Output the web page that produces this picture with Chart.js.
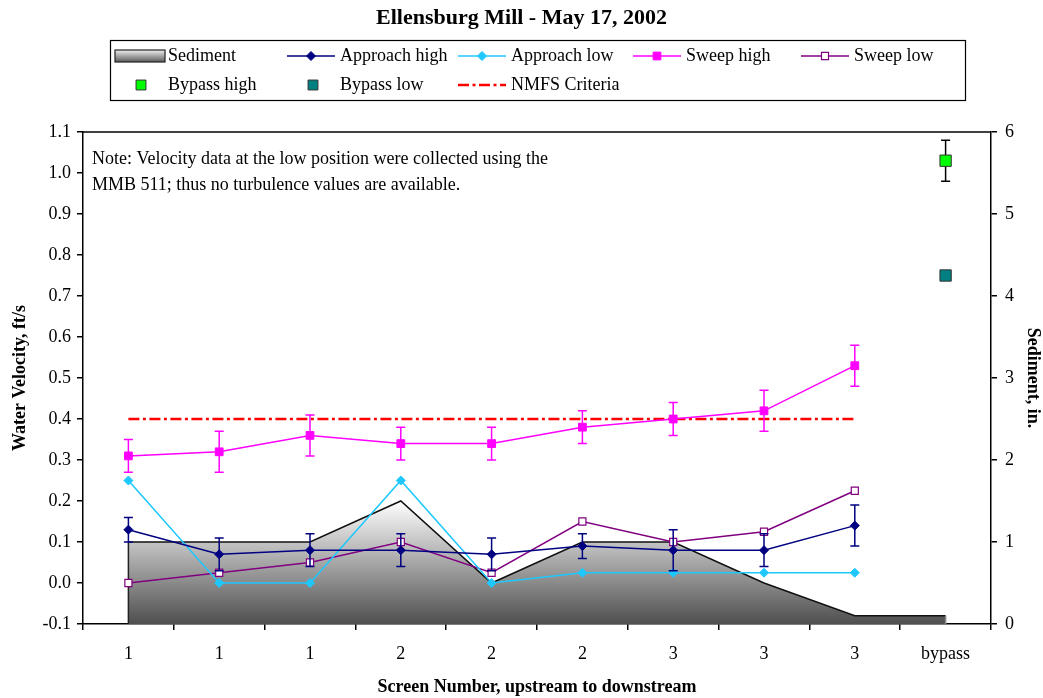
<!DOCTYPE html>
<html>
<head>
<meta charset="utf-8">
<script src="https://cdn.jsdelivr.net/npm/chart.js@4.4.1/dist/chart.umd.min.js"></script>
<style>
html, body { margin: 0; padding: 0; background: #fff; }
</style>
</head>
<body>
<canvas id="chart" width="1043" height="698"></canvas>
<script>
// screens, upstream to downstream
let screens = ['1', '1', '1', '2', '2', '2', '3', '3', '3', 'bypass'];

// water velocity, ft/s
let approach_high = [0.13, 0.07, 0.08, 0.08, 0.07, 0.09, 0.08, 0.08, 0.14, null];
let approach_high_err = [0.03, 0.04, 0.04, 0.04, 0.04, 0.03, 0.05, 0.04, 0.05, null];
let approach_low = [0.25, 0.0, 0.0, 0.25, 0.0, 0.025, 0.025, 0.025, 0.025, null];
let sweep_high = [0.31, 0.32, 0.36, 0.34, 0.34, 0.38, 0.40, 0.42, 0.53, null];
let sweep_high_err = [0.04, 0.05, 0.05, 0.04, 0.04, 0.04, 0.04, 0.05, 0.05, null];
let sweep_low = [0.0, 0.025, 0.05, 0.10, 0.025, 0.15, 0.10, 0.125, 0.225, null];
let bypass_high = [null, null, null, null, null, null, null, null, null, 1.03];
let bypass_high_err = [null, null, null, null, null, null, null, null, null, 0.05];
let bypass_low = [null, null, null, null, null, null, null, null, null, 0.75];
let nmfs = [0.4, 0.4, 0.4, 0.4, 0.4, 0.4, 0.4, 0.4, 0.4, null];

// sediment depth, in.
let sediment = [1.0, 1.0, 1.0, 1.5, 0.5, 1.0, 1.0, 0.5, 0.1, 0.1];

// axis ticks
let velocity_ticks = [-0.1, 0.0, 0.1, 0.2, 0.3, 0.4, 0.5, 0.6, 0.7, 0.8, 0.9, 1.0, 1.1];
let sediment_ticks = [0, 1, 2, 3, 4, 5, 6];

let serif = "'Liberation Serif', 'Times New Roman', serif";
let note_lines = [
    'Note: Velocity data at the low position were collected using the',
    'MMB 511; thus no turbulence values are available.'
];

// gradient for the sediment area, light on top, dark at the floor
function sedimentFill(context) {
    let chart = context.chart;
    if (!chart.chartArea) {
        return '#999';
    }
    let y1 = chart.scales.y1;
    let g = chart.ctx.createLinearGradient(0, y1.getPixelForValue(1.5), 0, y1.getPixelForValue(0));
    g.addColorStop(0, '#ffffff');
    g.addColorStop(1, '#4f4f4f');
    return g;
}

function drawMarker(ctx, style, x, y, r, fill, stroke, bw) {
    ctx.save();
    ctx.beginPath();
    if (style === 'rectRot') {
        ctx.moveTo(x, y - r);
        ctx.lineTo(x + r, y);
        ctx.lineTo(x, y + r);
        ctx.lineTo(x - r, y);
        ctx.closePath();
    } else {
        let s = r * Math.SQRT1_2;
        ctx.rect(x - s, y - s, 2 * s, 2 * s);
    }
    ctx.fillStyle = fill;
    ctx.fill();
    ctx.lineWidth = bw;
    ctx.strokeStyle = stroke;
    ctx.stroke();
    ctx.restore();
}

// error bars drawn just before their own series, so markers sit on top
let errorBars = {
    id: 'errorBars',
    beforeDatasetDraw(chart, args) {
        let ds = chart.data.datasets[args.index];
        if (!ds.errors) return;
        let ctx = chart.ctx;
        let yScale = chart.scales[args.meta.yAxisID];
        ctx.save();
        ctx.strokeStyle = ds.errorColor;
        ctx.lineWidth = 1.5;
        args.meta.data.forEach((pt, j) => {
            let v = ds.data[j];
            let e = ds.errors[j];
            if (v == null || e == null) return;
            let top = yScale.getPixelForValue(v + e);
            let bot = yScale.getPixelForValue(v - e);
            ctx.beginPath();
            ctx.moveTo(pt.x, top);
            ctx.lineTo(pt.x, bot);
            ctx.moveTo(pt.x - 4.5, top);
            ctx.lineTo(pt.x + 4.5, top);
            ctx.moveTo(pt.x - 4.5, bot);
            ctx.lineTo(pt.x + 4.5, bot);
            ctx.stroke();
        });
        ctx.restore();
    },
    afterDatasetDraw(chart, args) {
        // closing edges of the sediment area
        let ds = chart.data.datasets[args.index];
        if (ds.label !== 'Sediment') return;
        let ctx = chart.ctx;
        let pts = args.meta.data;
        let base = chart.scales.y1.getPixelForValue(0);
        ctx.save();
        ctx.lineWidth = 1.5;
        ctx.strokeStyle = '#222';
        ctx.beginPath();
        ctx.moveTo(pts[0].x, pts[0].y);
        ctx.lineTo(pts[0].x, base);
        ctx.stroke();
        ctx.strokeStyle = '#888';
        ctx.beginPath();
        ctx.moveTo(pts[pts.length - 1].x, pts[pts.length - 1].y);
        ctx.lineTo(pts[pts.length - 1].x, base);
        ctx.stroke();
        ctx.restore();
    }
};

// top edge of the plot box, note text and the boxed legend
let extras = {
    id: 'extras',
    afterDraw(chart) {
        let ctx = chart.ctx;
        let a = chart.chartArea;
        ctx.save();
        ctx.strokeStyle = '#000';
        ctx.lineWidth = 1.5;
        ctx.beginPath();
        ctx.moveTo(a.left, a.top);
        ctx.lineTo(a.right, a.top);
        ctx.stroke();

        ctx.fillStyle = '#000';
        ctx.font = '18px ' + serif;
        ctx.textBaseline = 'middle';
        ctx.fillText(note_lines[0], 92, 159);
        ctx.fillText(note_lines[1], 92, 185);

        // legend
        ctx.lineWidth = 1.2;
        ctx.strokeRect(110.5, 40.5, 855, 60);
        let items = [
            {ds: 0, x: 115, y: 56, kind: 'area'},
            {ds: 1, x: 287, y: 56, kind: 'line'},
            {ds: 2, x: 458, y: 56, kind: 'line'},
            {ds: 3, x: 633, y: 56, kind: 'line'},
            {ds: 4, x: 801, y: 56, kind: 'line'},
            {ds: 5, x: 115, y: 85, kind: 'point'},
            {ds: 6, x: 287, y: 85, kind: 'point'},
            {ds: 7, x: 458, y: 85, kind: 'line'}
        ];
        ctx.font = '18px ' + serif;
        items.forEach(it => {
            let ds = chart.data.datasets[it.ds];
            if (it.kind === 'area') {
                let g = ctx.createLinearGradient(0, it.y - 6, 0, it.y + 6);
                g.addColorStop(0, '#f0f0f0');
                g.addColorStop(1, '#5a5a5a');
                ctx.fillStyle = g;
                ctx.fillRect(it.x, it.y - 6, 50, 12);
                ctx.strokeStyle = '#222';
                ctx.lineWidth = 1.2;
                ctx.strokeRect(it.x, it.y - 6, 50, 12);
            } else if (it.kind === 'line') {
                ctx.strokeStyle = ds.borderColor;
                ctx.lineWidth = ds.borderWidth;
                ctx.setLineDash(ds.borderDash || []);
                ctx.beginPath();
                ctx.moveTo(it.x, it.y);
                ctx.lineTo(it.x + 48, it.y);
                ctx.stroke();
                ctx.setLineDash([]);
                if (ds.pointRadius > 0) {
                    drawMarker(ctx, ds.pointStyle, it.x + 24, it.y, ds.pointRadius,
                        ds.pointBackgroundColor, ds.pointBorderColor, ds.pointBorderWidth);
                }
            } else {
                drawMarker(ctx, ds.pointStyle, it.x + 26, it.y, 7, ds.pointBackgroundColor,
                    ds.pointBorderColor, 1);
            }
            ctx.fillStyle = '#000';
            ctx.fillText(ds.label, it.x + 53, it.y);
        });
        ctx.restore();
    }
};

let tickFont = {family: serif, size: 18};
let titleFont = {family: serif, size: 18, weight: 'bold'};

new Chart(document.getElementById('chart'), {
    type: 'line',
    data: {
        labels: screens,
        datasets: [
            {
                label: 'Sediment', data: sediment, yAxisID: 'y1', order: 10,
                borderColor: '#111', borderWidth: 1.5, backgroundColor: sedimentFill,
                fill: 'origin', pointRadius: 0, tension: 0
            },
            {
                label: 'Approach high', data: approach_high, yAxisID: 'y',
                borderColor: '#000080', borderWidth: 1.5, pointStyle: 'rectRot', pointRadius: 4.5,
                pointBackgroundColor: '#000080', pointBorderColor: '#000080', pointBorderWidth: 1,
                errors: approach_high_err, errorColor: '#000080'
            },
            {
                label: 'Approach low', data: approach_low, yAxisID: 'y',
                borderColor: '#1ec8ff', borderWidth: 1.5, pointStyle: 'rectRot', pointRadius: 4.5,
                pointBackgroundColor: '#1ec8ff', pointBorderColor: '#1ec8ff', pointBorderWidth: 1
            },
            {
                label: 'Sweep high', data: sweep_high, yAxisID: 'y',
                borderColor: '#ff00ff', borderWidth: 1.5, pointStyle: 'rect', pointRadius: 5.5,
                pointBackgroundColor: '#ff00ff', pointBorderColor: '#ff00ff', pointBorderWidth: 1,
                errors: sweep_high_err, errorColor: '#ff00ff'
            },
            {
                label: 'Sweep low', data: sweep_low, yAxisID: 'y',
                borderColor: '#800080', borderWidth: 1.5, pointStyle: 'rect', pointRadius: 5,
                pointBackgroundColor: '#ffffff', pointBorderColor: '#800080', pointBorderWidth: 1.2
            },
            {
                label: 'Bypass high', data: bypass_high, yAxisID: 'y', showLine: false,
                pointStyle: 'rect', pointRadius: 8, pointBackgroundColor: '#00ff00',
                pointBorderColor: '#333', pointBorderWidth: 1,
                errors: bypass_high_err, errorColor: '#000'
            },
            {
                label: 'Bypass low', data: bypass_low, yAxisID: 'y', showLine: false,
                pointStyle: 'rect', pointRadius: 8, pointBackgroundColor: '#008080',
                pointBorderColor: '#333', pointBorderWidth: 1
            },
            {
                label: 'NMFS Criteria', data: nmfs, yAxisID: 'y', order: 1,
                borderColor: '#ff0000', borderWidth: 2.5, borderDash: [11, 3.5, 3, 3.5],
                pointRadius: 0
            }
        ]
    },
    options: {
        responsive: false,
        animation: false,
        layout: {padding: 0},
        plugins: {
            legend: {display: false},
            tooltip: {enabled: false},
            title: {
                display: true, text: 'Ellensburg Mill - May 17, 2002', color: '#000',
                font: {family: serif, size: 22, weight: 'bold', lineHeight: 1.2},
                padding: {top: 5, bottom: 100.6}
            }
        },
        scales: {
            x: {
                type: 'category', offset: true,
                grid: {offset: true, drawOnChartArea: false, tickLength: 6, color: '#000', lineWidth: 1.5},
                border: {color: '#000', width: 1.5},
                ticks: {font: tickFont, color: '#000', padding: 13, maxRotation: 0, autoSkip: false},
                title: {display: true, text: 'Screen Number, upstream to downstream', color: '#000',
                    font: titleFont, padding: {top: 0, bottom: 0}},
                afterFit: s => { s.height = 74; }
            },
            y: {
                position: 'left', min: -0.1, max: 1.1,
                afterBuildTicks: s => { s.ticks = velocity_ticks.map(v => ({value: v})); },
                grid: {drawOnChartArea: false, tickLength: 6, color: '#000', lineWidth: 1.5},
                border: {color: '#000', width: 1.5},
                ticks: {font: tickFont, color: '#000', padding: 6, callback: v => v.toFixed(1)},
                title: {display: true, text: 'Water Velocity, ft/s', color: '#000',
                    font: titleFont, padding: {top: 10, bottom: 0}},
                afterFit: s => { s.width = 83; }
            },
            y1: {
                position: 'right', min: 0, max: 6,
                afterBuildTicks: s => { s.ticks = sediment_ticks.map(v => ({value: v})); },
                grid: {drawOnChartArea: false, tickLength: 6, color: '#000', lineWidth: 1.5},
                border: {color: '#000', width: 1.5},
                ticks: {font: tickFont, color: '#000', padding: 8},
                title: {display: true, text: 'Sediment, in.', color: '#000',
                    font: titleFont, padding: {top: 0, bottom: 0}},
                afterFit: s => { s.width = 52; }
            }
        }
    },
    plugins: [errorBars, extras]
});
</script>
</body>
</html>
